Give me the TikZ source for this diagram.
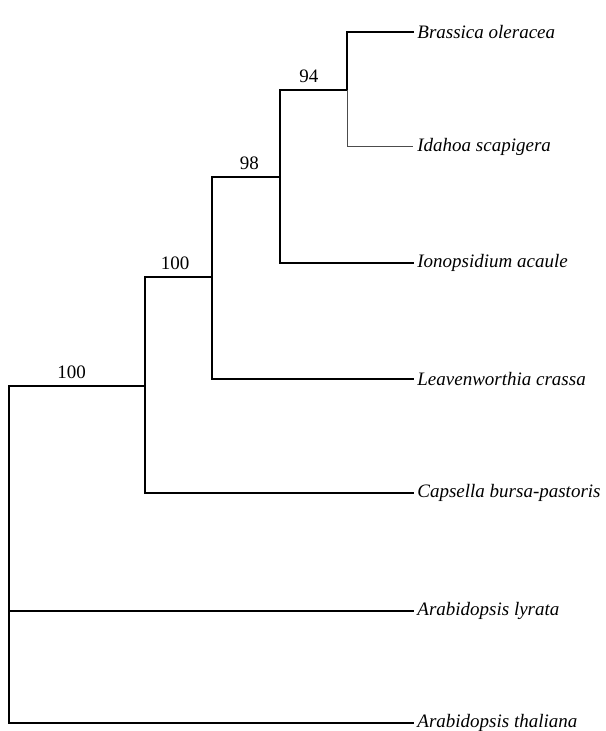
\documentclass[tikz,border=0pt]{standalone}
\usepackage{fontspec}
\setmainfont{Liberation Serif}

\begin{document}
\begin{tikzpicture}[x=0.5pt,y=-0.5pt,
  branch/.style={line width=0.7pt,line cap=rect},
  taxon/.style={anchor=west,inner xsep=2pt,font=\fontsize{9.5}{11}\selectfont\itshape},
  support/.style={above,inner sep=3.5pt,font=\fontsize{9.5}{11}\selectfont}]
\useasboundingbox (0,0) rectangle (605,731);

% internal nodes
\coordinate (root) at (9,386);
\coordinate (cA) at (145,386);
\coordinate (cB) at (212,277);
\coordinate (cC) at (280,177);
\coordinate (cD) at (347,90);

% taxa
\node[taxon] (bra) at (413,32) {Brassica oleracea};
\node[taxon] (ida) at (413,147) {Idahoa scapigera};
\node[taxon] (ion) at (413,263) {Ionopsidium acaule};
\node[taxon] (lea) at (413,379) {Leavenworthia crassa};
\node[taxon] (cap) at (413,493) {Capsella bursa-pastoris};
\node[taxon] (lyr) at (413,611) {Arabidopsis lyrata};
\node[taxon] (tha) at (413,723) {Arabidopsis thaliana};

% branches
\draw[branch] (root) -- node[support,pos=0.46] {100} (cA);
\draw[branch] (root) |- (lyr.west);
\draw[branch] (root) |- (tha.west);
\draw[branch] (cA) |- node[support,pos=0.725] {100} (cB);
\draw[branch] (cA) |- (cap.west);
\draw[branch] (cB) |- node[support,pos=0.775] {98} (cC);
\draw[branch] (cB) |- (lea.west);
\draw[branch] (cC) |- node[support,pos=0.715] {94} (cD);
\draw[branch] (cC) |- (ion.west);
\draw[branch] (cD) |- (bra.west);
\draw[line width=0.5pt,black!70] (cD) |- (ida.west);
\end{tikzpicture}
\end{document}
